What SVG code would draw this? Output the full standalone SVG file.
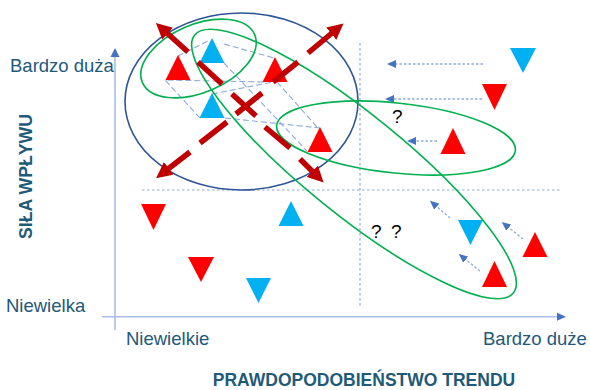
<svg xmlns="http://www.w3.org/2000/svg" width="590" height="390" viewBox="0 0 590 390">
<defs>
<style>
.lbl{font-family:"Liberation Sans",Arial,sans-serif;font-size:18.5px;fill:#22597a}
.ttl{font-family:"Liberation Sans",Arial,sans-serif;font-size:17.5px;font-weight:bold;fill:#1f5a78}
.q{font-family:"Liberation Sans",Arial,sans-serif;font-size:19px;fill:#000}
.axis{stroke:#a9bde6;stroke-width:1.6;fill:none}
.grid{stroke:#8faadc;stroke-width:1.2;stroke-dasharray:2.5 2.5;fill:none}
.net{stroke:#8faadc;stroke-width:1.1;stroke-dasharray:6 3;fill:none}
.dot{stroke:#8faadc;stroke-width:1.3;stroke-dasharray:2.5 2;fill:none}
.big{stroke:#c00000;stroke-width:5.5;fill:none}
.ell{fill:none;stroke-width:1.6}
.red{fill:#ff0000}
.blue{fill:#00b0f0}
</style>
<marker id="rh" markerUnits="userSpaceOnUse" markerWidth="16" markerHeight="16" viewBox="0 0 16 16" refX="1" refY="8" orient="auto">
<path d="M0,0 L16,8 L0,16 z" fill="#c00000"/>
</marker>
<marker id="bh" markerUnits="userSpaceOnUse" markerWidth="9" markerHeight="8" viewBox="0 0 9 8" refX="1" refY="4" orient="auto">
<path d="M0,0 L9,4 L0,8 z" fill="#4472c4"/>
</marker>
</defs>
<rect width="590" height="390" fill="#fff"/>

<g id="axes">
<line class="axis" x1="115" y1="330" x2="115" y2="56"/>
<polygon points="115,48 110.5,57 119.5,57" fill="#4472c4"/>
<line class="axis" x1="102" y1="316.7" x2="558" y2="316.7"/>
<polygon points="566,316.7 557,312.7 557,320.7" fill="#4472c4"/>
<line class="grid" x1="142" y1="190" x2="560" y2="190"/>
<line class="grid" x1="360" y1="43" x2="360" y2="307"/>
</g>

<g id="connectors">
<g id="network">
<line class="net" x1="178" y1="56" x2="210" y2="40"/>
<line class="net" x1="224" y1="44" x2="274" y2="58"/>
<polyline class="net" points="200,118 165,80 265,82"/>
<line class="net" x1="212" y1="94" x2="273" y2="82"/>
<line class="net" x1="225" y1="118" x2="320" y2="128"/>
<line class="net" x1="224" y1="63" x2="307" y2="151"/>
<line class="net" x1="277" y1="82" x2="318" y2="128"/>
</g>
<g id="moves">
<line class="dot" x1="483" y1="64" x2="395" y2="64" marker-end="url(#bh)"/>
<line class="dot" x1="482" y1="99" x2="393" y2="99" marker-end="url(#bh)"/>
<line class="dot" x1="437" y1="141" x2="415" y2="141" marker-end="url(#bh)"/>
<line class="dot" x1="450" y1="218" x2="436" y2="206" marker-end="url(#bh)"/>
<line class="dot" x1="523" y1="239" x2="508" y2="227" marker-end="url(#bh)"/>
<line class="dot" x1="480" y1="271" x2="465" y2="259" marker-end="url(#bh)"/>
</g>
</g>

<g id="triangles">
<polygon id="t1" class="red" points="178,55 165.5,80 190.5,80"/>
<polygon id="t2" class="blue" points="212,38 199.5,63 224.5,63"/>
<polygon id="t3" class="red" points="275,57 262.5,82 287.5,82"/>
<polygon id="t4" class="blue" points="212,93 199.5,118 224.5,118"/>
<polygon id="t5" class="red" points="320,127 307.5,152 332.5,152"/>
<polygon id="t6" class="blue" points="510,48 536,48 523,73"/>
<polygon id="t7" class="red" points="482,84 507,84 494.5,110"/>
<polygon id="t8" class="red" points="453,128 440.5,154 465.5,154"/>
<polygon id="t9" class="red" points="141,204 166,204 153.5,230"/>
<polygon id="t10" class="blue" points="291,201 278.5,226 303.5,226"/>
<polygon id="t11" class="red" points="188,257 214,257 201,282"/>
<polygon id="t12" class="red" points="535,232 522.5,257 547.5,257"/>
<polygon id="t13" class="red" points="494.5,261 482,287 507,287"/>
<polygon id="t14" class="blue" points="246,278 271,278 258.5,303"/>
<polygon id="t15" class="blue" points="458,220 483,220 470.5,245"/>
</g>

<g id="groups">
<ellipse id="cluster" class="ell" stroke="#2f5597" cx="241.5" cy="101.5" rx="116.5" ry="88.5"/>
<ellipse id="g1" class="ell" stroke="#00b050" cx="198.5" cy="58.5" rx="61" ry="34" transform="rotate(-23 198.5 58.5)"/>
<ellipse id="g2" class="ell" stroke="#00b050" cx="354" cy="164" rx="205" ry="50" transform="rotate(39 354 164)"/>
<ellipse id="g3" class="ell" stroke="#00b050" cx="396" cy="138" rx="120" ry="35" transform="rotate(6 396 138)"/>
</g>

<g id="expansion">
<line class="big" x1="222" y1="84" x2="198" y2="62"/>
<line class="big" x1="188" y1="52" x2="167" y2="33" marker-end="url(#rh)"/>
<line class="big" x1="273" y1="82" x2="298" y2="62"/>
<line class="big" x1="308" y1="53" x2="332" y2="33" marker-end="url(#rh)"/>
<line class="big" x1="227" y1="122" x2="200" y2="143"/>
<line class="big" x1="190" y1="152" x2="168" y2="169" marker-end="url(#rh)"/>
<line class="big" x1="265" y1="127" x2="290" y2="148"/>
<line class="big" x1="300" y1="159" x2="313" y2="172" marker-end="url(#rh)"/>
<line class="big" x1="232" y1="94" x2="256" y2="116"/>
<line class="big" x1="236" y1="114" x2="262" y2="93"/>
</g>

<g id="labels">
<text class="lbl" x="10" y="72">Bardzo duża</text>
<text class="lbl" x="6" y="312">Niewielka</text>
<text class="lbl" x="126" y="345">Niewielkie</text>
<text class="lbl" x="483" y="345">Bardzo duże</text>
<text class="ttl" x="364" y="386" text-anchor="middle">PRAWDOPODOBIEŃSTWO TRENDU</text>
<text class="ttl" x="32" y="176.5" text-anchor="middle" transform="rotate(-90 32 176.5)" textLength="125" lengthAdjust="spacingAndGlyphs">SIŁA WPŁYWU</text>
<text class="q" x="392" y="123">?</text>
<text class="q" x="371" y="238">?</text>
<text class="q" x="391" y="238">?</text>
</g>
</svg>
